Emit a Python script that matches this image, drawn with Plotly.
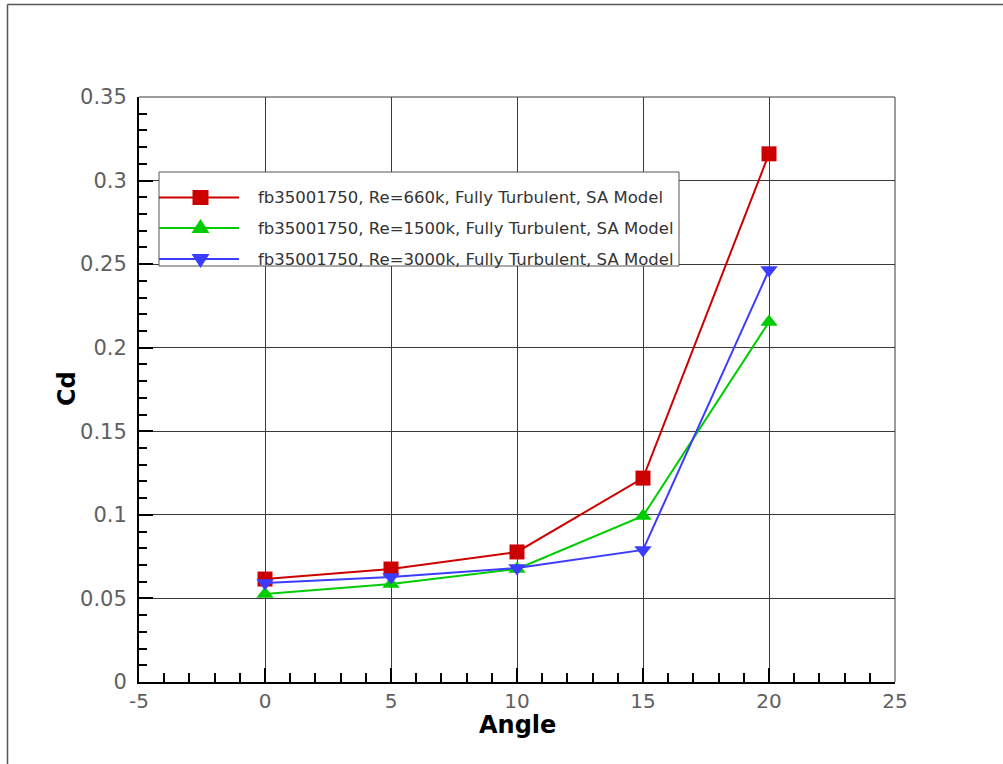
import plotly.graph_objects as go

# ---- data ----
angles = [0, 5, 10, 15, 20]
cd_660k = [0.0616, 0.0676, 0.0778, 0.122, 0.316]
cd_1500k = [0.0527, 0.0586, 0.0676, 0.0993, 0.2154]
cd_3000k = [0.0592, 0.0628, 0.0682, 0.079, 0.2465]
series_names = [
    "fb35001750, Re=660k, Fully Turbulent, SA Model",
    "fb35001750, Re=1500k, Fully Turbulent, SA Model",
    "fb35001750, Re=3000k, Fully Turbulent, SA Model",
]
x_ticks = [-5, 0, 5, 10, 15, 20, 25]
y_ticks = [0, 0.05, 0.1, 0.15, 0.2, 0.25, 0.3, 0.35]
y_tick_labels = ["0", "0.05", "0.1", "0.15", "0.2", "0.25", "0.3", "0.35"]
x_title = "Angle"
y_title = "Cd"

RED, GREEN, BLUE = "#cc0000", "#00cc00", "#3c3cff"
W, H = 1003, 764
ML, MR, MT, MB = 139, 108, 97, 82
PW, PH = W - ML - MR, H - MT - MB


def px(x):
    return (x - ML) / PW


def py(y):
    return (H - MB - y) / PH


fig = go.Figure()
styles = [
    (cd_660k, RED, "square"),
    (cd_1500k, GREEN, "triangle-up"),
    (cd_3000k, BLUE, "triangle-down"),
]
for (vals, col, sym), name in zip(styles, series_names):
    fig.add_trace(go.Scatter(
        x=angles, y=vals, name=name, mode="lines+markers",
        line=dict(color=col, width=2),
        marker=dict(symbol=sym, size=15, color=col, line=dict(width=0)),
        showlegend=False, cliponaxis=False,
    ))

axis_common = dict(
    showgrid=True, gridcolor="#3a3a3a", gridwidth=1,
    showline=True, linecolor="black", linewidth=2, mirror=False,
    ticks="inside", ticklen=14, tickwidth=2, tickcolor="black",
    zeroline=False,
)
fig.update_xaxes(
    range=[-5, 25], tickvals=x_ticks, ticktext=[str(v) for v in x_ticks],
    minor=dict(ticks="inside", ticklen=9, tickwidth=1.5, tickcolor="black", dtick=1, showgrid=False),
    tickfont=dict(family="DejaVu Sans", size=20, color="#606060"),
    **axis_common,
)
fig.update_yaxes(
    range=[0, 0.35], tickvals=y_ticks, ticktext=y_tick_labels,
    minor=dict(ticks="inside", ticklen=8, tickwidth=1.5, tickcolor="black", dtick=0.01, showgrid=False),
    tickfont=dict(family="DejaVu Sans", size=21, color="#606060"),
    ticklabelstandoff=6,
    **axis_common,
)

shapes = []
# top and right plot border (thin)
shapes.append(dict(type="line", xref="paper", yref="paper", x0=0, x1=1, y0=1, y1=1,
                   line=dict(color="#3a3a3a", width=1)))
shapes.append(dict(type="line", xref="paper", yref="paper", x0=1, x1=1, y0=0, y1=1,
                   line=dict(color="#3a3a3a", width=1)))
# outer frame (left & top)
shapes.append(dict(type="line", xref="paper", yref="paper", x0=px(7.5), x1=px(7.5), y0=py(4.5), y1=py(H + 2),
                   line=dict(color="#555555", width=1.5)))
shapes.append(dict(type="line", xref="paper", yref="paper", x0=px(7.5), x1=px(W + 2), y0=py(4.5), y1=py(4.5),
                   line=dict(color="#555555", width=1.5)))
# legend box
shapes.append(dict(type="rect", xref="paper", yref="paper", x0=px(159), x1=px(679), y0=py(172), y1=py(266),
                   fillcolor="white", line=dict(color="#555555", width=1), layer="above"))

rows = [197.5, 228, 259]
mx = 200.5
annotations = []
for (vals, col, sym), name, ry in zip(styles, series_names, rows):
    shapes.append(dict(type="line", xref="paper", yref="paper", x0=px(159), x1=px(239), y0=py(ry), y1=py(ry),
                       line=dict(color=col, width=2), layer="above"))
    if sym == "square":
        shapes.append(dict(type="rect", xref="paper", yref="paper", x0=px(mx - 8), x1=px(mx + 8),
                           y0=py(ry - 7.5), y1=py(ry + 7.5), fillcolor=col, line=dict(width=0), layer="above"))
    elif sym == "triangle-up":
        path = "M {} {} L {} {} L {} {} Z".format(px(mx - 9), py(ry + 5), px(mx + 9), py(ry + 5), px(mx), py(ry - 9))
        shapes.append(dict(type="path", xref="paper", yref="paper", path=path, fillcolor=col,
                           line=dict(width=0), layer="above"))
    else:
        path = "M {} {} L {} {} L {} {} Z".format(px(mx - 9), py(ry - 5), px(mx + 9), py(ry - 5), px(mx), py(ry + 9))
        shapes.append(dict(type="path", xref="paper", yref="paper", path=path, fillcolor=col,
                           line=dict(width=0), layer="above"))
    annotations.append(dict(text=name, xref="paper", yref="paper", x=px(256), y=py(ry),
                            xanchor="left", yanchor="middle", showarrow=False,
                            font=dict(family="DejaVu Sans", size=16.5, color="#333333")))

title_font = dict(family="DejaVu Sans", size=24, color="black", weight="bold")
annotations.append(dict(text=x_title, xref="paper", yref="paper", x=px(517), y=py(725),
                        xanchor="center", yanchor="middle", showarrow=False, font=title_font))
annotations.append(dict(text=y_title, xref="paper", yref="paper", x=px(67), y=py(389),
                        xanchor="center", yanchor="middle", showarrow=False, textangle=-90, font=title_font))

fig.update_layout(
    width=W, height=H,
    margin=dict(l=ML, r=MR, t=MT, b=MB, pad=0),
    paper_bgcolor="white", plot_bgcolor="white",
    shapes=shapes, annotations=annotations,
    showlegend=False,
)

fig.write_html("out.html")
